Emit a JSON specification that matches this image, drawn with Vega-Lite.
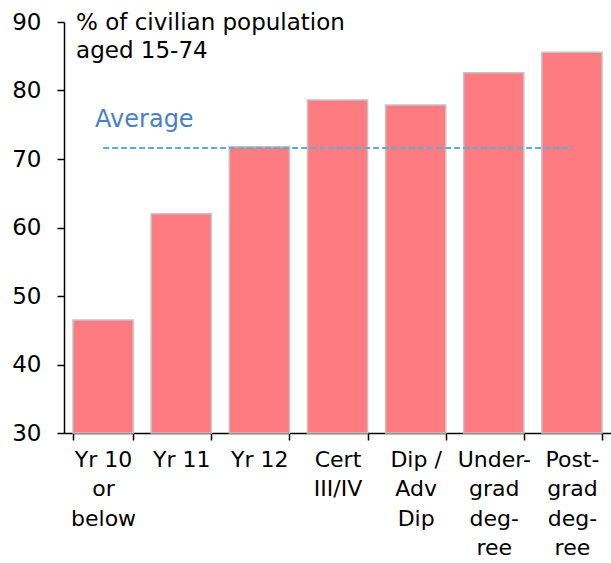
{
  "$schema": "https://vega.github.io/schema/vega-lite/v6.json",
  "width": 547,
  "height": 411,
  "autosize": "none",
  "padding": {"left": 64, "top": 22, "right": 0, "bottom": 130},
  "background": "white",
  "config": {
    "view": {"stroke": null},
    "font": "DejaVu Sans"
  },
  "datasets": {
    "bars": [
      {"cat": "Yr 10|or|below", "value": 46.5},
      {"cat": "Yr 11", "value": 62.0},
      {"cat": "Yr 12", "value": 71.8},
      {"cat": "Cert|III/IV", "value": 78.6},
      {"cat": "Dip /|Adv|Dip", "value": 77.9},
      {"cat": "Under-|grad|deg-|ree", "value": 82.6},
      {"cat": "Post-|grad|deg-|ree", "value": 85.6}
    ],
    "avg": [
      {"from": "Yr 10|or|below", "to": "Post-|grad|deg-|ree", "avg": 71.6, "label": "Average"}
    ],
    "title": [
      {"text": "% of civilian population|aged 15-74", "cat": "Yr 10|or|below", "top": 90}
    ]
  },
  "layer": [
    {
      "data": {"name": "bars"},
      "mark": {"type": "bar", "color": "#FF7B82", "stroke": "#C4C4C4", "strokeWidth": 1.5},
      "encoding": {
        "x": {
          "field": "cat", "type": "nominal", "sort": null,
          "scale": {"paddingInner": 0.23, "paddingOuter": 0.115},
          "axis": {
            "title": null, "labelAngle": 0, "tickBand": "extent",
            "labelExpr": "split(datum.label, '|')",
            "labelFontSize": 22, "labelColor": "#000000", "labelLineHeight": 29.5,
            "labelPadding": 9, "labelBaseline": "top", "labelOverlap": false, "labelBound": false,
            "domainColor": "#000000", "domainWidth": 1.5,
            "tickColor": "#000000", "tickSize": 7, "tickWidth": 1.5
          }
        },
        "y": {
          "field": "value", "type": "quantitative",
          "scale": {"domain": [30, 90], "nice": false, "zero": false},
          "axis": {
            "title": null, "values": [30, 40, 50, 60, 70, 80, 90], "grid": false,
            "labelFontSize": 23, "labelColor": "#000000", "labelPadding": 16,
            "domainColor": "#000000", "domainWidth": 1.5,
            "tickColor": "#000000", "tickSize": 7, "tickWidth": 1.5
          }
        },
        "y2": {"datum": 30}
      }
    },
    {
      "data": {"name": "avg"},
      "mark": {"type": "rule", "color": "#5AAFD2", "strokeWidth": 2, "strokeDash": [6, 3]},
      "encoding": {
        "x": {"field": "from", "type": "nominal", "sort": null},
        "x2": {"field": "to"},
        "y": {"field": "avg", "type": "quantitative"}
      }
    },
    {
      "data": {"name": "avg"},
      "mark": {"type": "text", "color": "#4A7EC4", "fontSize": 24, "align": "left", "baseline": "alphabetic", "dx": -8, "dy": -21},
      "encoding": {
        "x": {"field": "from", "type": "nominal", "sort": null},
        "y": {"field": "avg", "type": "quantitative"},
        "text": {"field": "label"}
      }
    },
    {
      "data": {"name": "title"},
      "mark": {"type": "text", "color": "#000000", "fontSize": 23, "align": "left", "baseline": "top", "lineBreak": "|", "lineHeight": 28, "dx": -27, "dy": -10},
      "encoding": {
        "x": {"field": "cat", "type": "nominal", "sort": null},
        "y": {"field": "top", "type": "quantitative"},
        "text": {"field": "text"}
      }
    }
  ]
}
